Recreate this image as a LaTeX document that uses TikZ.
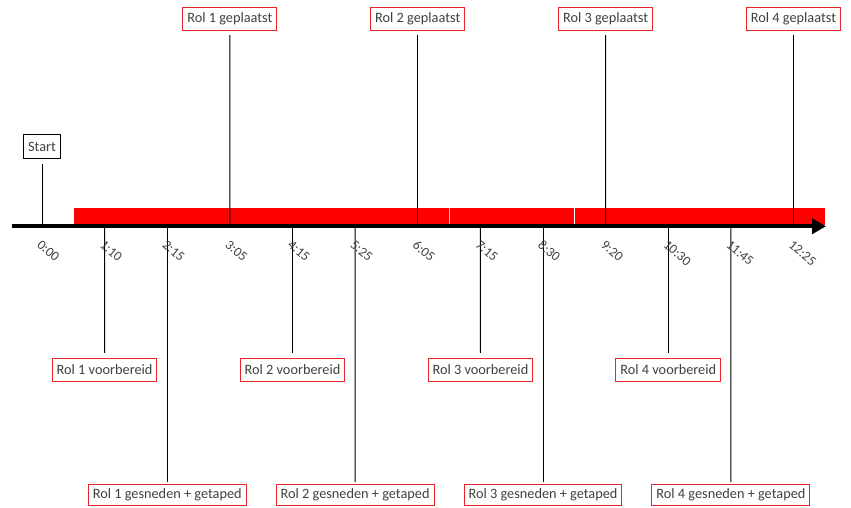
\documentclass[tikz,border=0pt]{standalone}
\usepackage{fontspec}
\setmainfont{Carlito}
\usetikzlibrary{arrows.meta}
\definecolor{txt}{HTML}{404040}
\definecolor{barred}{HTML}{FF0000}
\definecolor{boxred}{HTML}{E8262B}

\begin{document}
\begin{tikzpicture}[x=1pt,y=-1pt,
  evt/.style={draw=boxred, line width=1pt, text=txt, font=\fontsize{14.3}{15}\selectfont,
              inner xsep=4.5pt, inner ysep=0pt, minimum height=23.5pt},
  lowevt/.style={evt, minimum height=21pt},
  startbox/.style={evt, draw=black},
  tlabel/.style={font=\fontsize{13.5}{14}\selectfont, text=txt, rotate=-40,
                 anchor=north west, inner sep=0pt},
  stem/.style={line width=1pt, black},
  axisline/.style={line width=4pt, black, -{Triangle[length=14pt,width=15pt]}}
]
\useasboundingbox (0,0) rectangle (851,508);

% red progress bar (three joined segments)
\fill[barred] (74,208) rectangle (825,224.5);
\draw[white!75!red, line width=0.5pt] (449,208) -- (449,224.5);
\draw[white, line width=0.9pt] (574.5,208) -- (574.5,224.5);

% tick positions on the axis
\foreach \i in {0,...,12} {
  \coordinate (t\i) at ({42+62.625*\i},226.3);
}

% events above the axis
\node[startbox] (start) at (42,146.5) {Start};
\node[evt] (g1) at (229.9,19) {Rol 1 geplaatst};
\node[evt] (g2) at (417.75,19) {Rol 2 geplaatst};
\node[evt] (g3) at (605.6,19) {Rol 3 geplaatst};
\node[evt] (g4) at (793.5,19) {Rol 4 geplaatst};

% events below the axis
\node[evt] (v1) at (104.6,370) {Rol 1 voorbereid};
\node[evt] (v2) at (292.5,370) {Rol 2 voorbereid};
\node[evt] (v3) at (480.4,370) {Rol 3 voorbereid};
\node[evt] (v4) at (668.25,370) {Rol 4 voorbereid};
\node[lowevt] (s1) at (167.25,495) {Rol 1 gesneden + getaped};
\node[lowevt] (s2) at (355.1,495) {Rol 2 gesneden + getaped};
\node[lowevt] (s3) at (543,495) {Rol 3 gesneden + getaped};
\node[lowevt] (s4) at (730.9,495) {Rol 4 gesneden + getaped};

% stems from the axis to the event boxes
\draw[stem, shorten >=5pt] (t0) -- (start.south);
\draw[stem, shorten >=4pt] (t3) -- (g1.south);
\draw[stem, shorten >=4pt] (t6) -- (g2.south);
\draw[stem, shorten >=4pt] (t9) -- (g3.south);
\draw[stem, shorten >=4pt] (t12) -- (g4.south);
\draw[stem, shorten >=5pt] (t1) -- (v1.north);
\draw[stem, shorten >=5pt] (t4) -- (v2.north);
\draw[stem, shorten >=5pt] (t7) -- (v3.north);
\draw[stem, shorten >=5pt] (t10) -- (v4.north);
\draw[stem, shorten >=2pt] (t2) -- (s1.north);
\draw[stem, shorten >=2pt] (t5) -- (s2.north);
\draw[stem, shorten >=2pt] (t8) -- (s3.north);
\draw[stem, shorten >=2pt] (t11) -- (s4.north);

% time axis
\coordinate (axL) at (12,226.3);
\coordinate (axR) at (826,226.3);
\draw[axisline] (axL) -- (axR);

% tick labels
\foreach \i/\lab in {0/0:00,1/1:10,2/2:15,3/3:05,4/4:15,5/5:25,6/6:05,
                     7/7:15,8/8:30,9/9:20,10/10:30,11/11:45,12/12:25} {
  \node[tlabel] (lab\i) at ([yshift=-239.5pt]t\i |- 0,0) {\lab};
}
\end{tikzpicture}
\end{document}
